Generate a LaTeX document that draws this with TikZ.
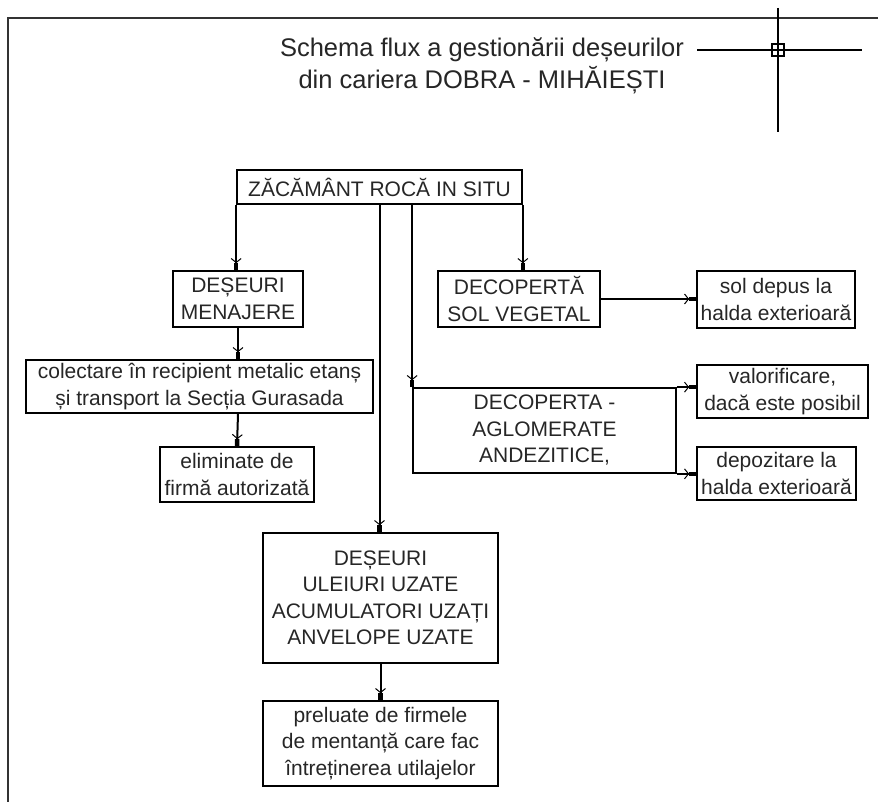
\documentclass[tikz,border=0pt]{standalone}
\usepackage{fontspec}
\setmainfont{Liberation Sans}
\usetikzlibrary{arrows.meta}
\tikzset{
  box/.style={draw, line width=1.7pt, align=center, inner sep=0pt, font=\fontsize{21}{26.5}\selectfont, text=black!85},
  flowarrow/.style={line width=2pt, -{Straight Barb[length=4pt,width=10pt,line width=1pt] Rectangle[length=7pt,width=4.5pt]}},
}
\begin{document}
\begin{tikzpicture}[x=1pt,y=-1pt]
\useasboundingbox (0,0) rectangle (878,802);
% frame
\draw[line width=1.8pt, black!80] (8,802) -- (8,18) -- (878,18);
% title
\node[align=center, text=black!85, font=\fontsize{25.5}{32}\selectfont] (title) at (482,66) {Schema flux a gestionării deșeurilor\\din cariera DOBRA - MIHĂIEȘTI};
% cross mark
\coordinate (cm) at (778,50);
\draw[line width=1.4pt] (697,50) -- (862,50);
\draw[line width=1.4pt] (778,8) -- (778,132);
\draw[line width=1.4pt] (772,44) rectangle (784,56);
% boxes
\node[box, minimum width=285, minimum height=34] (zac) at (379.5,187) {ZĂCĂMÂNT ROCĂ IN SITU};
\node[box, minimum width=130, minimum height=56] (men) at (238,299) {DEȘEURI\\MENAJERE};
\node[box, minimum width=162, minimum height=56] (sol) at (519,299) {DECOPERTĂ\\SOL VEGETAL};
\node[box, minimum width=158, minimum height=57] (dep) at (776,299.5) {sol depus la\\halda exterioară};
\node[box, minimum width=347, minimum height=53] (col) at (199.5,386.5) {colectare în recipient metalic etanș\\și transport la Secția Gurasada};
\node[box, minimum width=154, minimum height=55] (elim) at (237,474.5) {eliminate de\\firmă autorizată};
\node[box, minimum width=263, minimum height=85] (agl) at (544.5,430.5) {DECOPERTA -\\AGLOMERATE\\ANDEZITICE,};
\node[box, minimum width=171, minimum height=53] (val) at (782.5,391.5) {valorificare,\\dacă este posibil};
\node[box, minimum width=159, minimum height=53] (depoz) at (776.5,473.5) {depozitare la\\halda exterioară};
\node[box, minimum width=235, minimum height=130] (ule) at (380.5,598) {DEȘEURI\\ULEIURI UZATE\\ACUMULATORI UZAȚI\\ANVELOPE UZATE};
\node[box, minimum width=235, minimum height=85] (prel) at (380.5,743.5) {preluate de firmele\\de mentanță care fac\\întreținerea utilajelor};
% connectors
\draw[flowarrow] (zac.south west) -- (zac.south west |- men.north);
\draw[flowarrow] (zac.south) -- (zac.south |- ule.north);
\draw[flowarrow] (agl.north west |- zac.south) -- (agl.north west);
\draw[flowarrow] (zac.south east) -- (zac.south east |- sol.north);
\draw[flowarrow] (sol.east) -- (sol.east -| dep.west);
\draw[flowarrow] (men.south) -- (men.south |- col.north);
\draw[flowarrow] (men.south |- col.south) -- (elim.north);
\draw[flowarrow] (agl.north east) -- (agl.north east -| val.west);
\draw[flowarrow] (agl.south east) -- (agl.south east -| depoz.west);
\draw[flowarrow] (ule.south) -- (prel.north);
\end{tikzpicture}
\end{document}
